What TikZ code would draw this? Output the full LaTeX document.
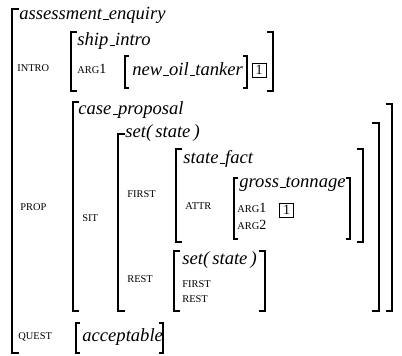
\documentclass[tikz,border=0pt]{standalone}
\usepackage{fontspec}
\setmainfont{Liberation Serif}

% short low rule for the underscores in the type names
\newcommand{\usc}{\kern.06em\vbox{\hrule width.3em}}
% feature names in small capitals
\newcommand{\sm}[1]{{\fontsize{5.2}{6}\selectfont #1}}
% square brackets: x, top, bottom, tick
\newcommand{\lbrk}[5][brk]{\draw[#1] (#2+#5,#3) -| (#2,#4) -- (#2+#5,#4);}
\newcommand{\rbrk}[5][brk]{\draw[#1] (#2-#5,#3) -| (#2,#4) -- (#2-#5,#4);}

\tikzset{
  brk/.style={line width=0.85pt},
  thinbrk/.style={line width=0.55pt},
  type/.style={font=\fontsize{9.3}{11}\selectfont\itshape, anchor=base west, inner sep=0pt},
  feat/.style={font=\fontsize{7}{8}\selectfont, anchor=base west, inner sep=0pt},
  tag/.style={draw, line width=0.4pt, font=\fontsize{7}{8}\selectfont, inner sep=0pt, minimum size=7pt}
}

\begin{document}
\begin{tikzpicture}[x=0.5pt,y=-0.5pt]
\useasboundingbox (0,0) rectangle (402,356);

% outer matrix
\lbrk{12}{9}{353}{7}
\node[type] (ae) at (19,19.5) {assessment\usc enquiry};
\node[feat] (intro) at (17,72) {\sm{INTRO}};
\node[feat] (prop) at (20,211) {\sm{PROP}};
\node[feat] (quest) at (18,340) {\sm{QUEST}};

% intro value
\lbrk{71}{32}{91}{6}
\rbrk{273}{32}{91}{6}
\node[type] (si) at (77,46) {ship\usc intro};
\node[feat] (arga) at (77,74) {\sm{ARG}1};
\lbrk[thinbrk]{125}{56}{88}{4}
\rbrk[thinbrk]{247}{56}{88}{4}
\node[type] (not) at (132,76) {new\usc oil\usc tanker};
\node[tag] (taga) at (259,70) {1};

% prop value
\lbrk{73}{102}{311}{6}
\rbrk{392}{104}{311}{6}
\node[type] (cp) at (78,115) {case\usc proposal};
\node[feat] (sit) at (82,222) {\sm{SIT}};

\lbrk{118}{134}{311}{7}
\rbrk{379}{123}{311}{7}
\node[type] (ss) at (125,138) {set(\,state\,)};
\node[feat] (firsta) at (127,198) {\sm{FIRST}};
\node[feat] (resta) at (127,283) {\sm{REST}};

\lbrk{176}{149}{242}{6}
\rbrk{363}{149}{242}{6}
\node[type] (sf) at (183,164) {state\usc fact};
\node[feat] (attr) at (185,210) {\sm{ATTR}};

\lbrk[thinbrk]{234}{178}{239}{4}
\rbrk[thinbrk]{350}{178}{239}{4}
\node[type] (gt) at (239,188) {gross\usc tonnage};
\node[feat] (argb) at (237,213) {\sm{ARG}1};
\node[tag] (tagb) at (286.5,210) {1};
\node[feat] (argc) at (237,230) {\sm{ARG}2};

\lbrk{174}{251}{311}{6}
\rbrk{265}{251}{311}{6}
\node[type] (ssb) at (182,265) {set(\,state\,)};
\node[feat] (firstb) at (182,288) {\sm{FIRST}};
\node[feat] (restb) at (182,303) {\sm{REST}};

% quest value
\lbrk[thinbrk]{76}{323}{353}{4}
\rbrk[thinbrk]{163}{323}{353}{4}
\node[type] (acc) at (82,342) {acceptable};
\end{tikzpicture}
\end{document}
